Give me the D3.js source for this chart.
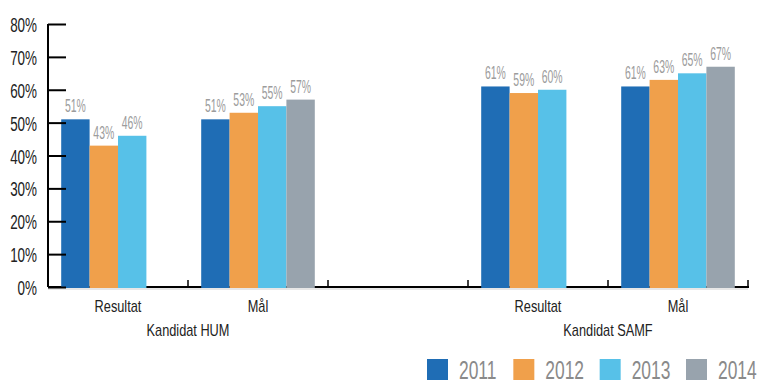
<!DOCTYPE html>
<html>
<head>
<meta charset="utf-8">
<script src="https://cdn.jsdelivr.net/npm/d3@7"></script>
<style>
  html, body { margin: 0; padding: 0; background: #fff; }
  svg text { font-family: "Liberation Sans", Arial, sans-serif; }
</style>
</head>
<body>
<svg id="chart" width="758" height="385"></svg>
<script>
// Category slots along the x axis (one empty slot separates the two programmes)
const categories = ["HUM Resultat", "HUM Mål", "gap", "SAMF Resultat", "SAMF Mål"];
const categoryLabels = ["Resultat", "Mål", "", "Resultat", "Mål"];
const groups = [
  { label: "Kandidat HUM", from: "HUM Resultat", to: "HUM Mål" },
  { label: "Kandidat SAMF", from: "SAMF Resultat", to: "SAMF Mål" }
];
const years = ["2011", "2012", "2013", "2014"];
const colors = ["#1f6db5", "#f0a04b", "#57c1e8", "#98a3ad"];

// Share per year in each slot (null = no bar)
const v2011 = [51, 51, null, 61, 61];
const v2012 = [43, 53, null, 59, 63];
const v2013 = [46, 55, null, 60, 65];
const v2014 = [null, 57, null, null, 67];
const series = [v2011, v2012, v2013, v2014];

const yTicks = [0, 10, 20, 30, 40, 50, 60, 70, 80];

const svg = d3.select("#chart");
const margin = { left: 48, right: 10, top: 24, bottom: 98 };
const W = 758, H = 385;

// tall, narrow lettering: a smaller face stretched vertically about its baseline
function narrowFace(sel, size, sx) {
  sel.attr("font-size", size * sx)
    .attr("transform", function () {
      const y0 = +this.getAttribute("y") || 0;
      return `translate(0,${y0}) scale(1,${1 / sx}) translate(0,${-y0})`;
    });
}

const x = d3.scaleBand().domain(categories).range([margin.left, W - margin.right]).paddingInner(0).paddingOuter(0);
const xi = d3.scaleBand().domain(years).range([0, x.bandwidth()]).paddingOuter(0.465).paddingInner(0);
const y = d3.scaleLinear().domain([0, 80]).range([H - margin.bottom, margin.top]);

// faint baseline shadow
svg.append("line")
  .attr("x1", margin.left).attr("x2", W - margin.right)
  .attr("y1", y(0) + 2).attr("y2", y(0) + 2)
  .attr("stroke", "#cfcfcf").attr("stroke-width", 1);

// bars
const barData = [];
series.forEach((s, si) => s.forEach((v, ci) => {
  if (v != null) barData.push({ cat: categories[ci], year: years[si], v, color: colors[si] });
}));

// x axis with boundary ticks pointing up
const bounds = categories.map(c => x(c)).concat([x(categories[categories.length - 1]) + x.bandwidth()]);
const xAxisG = svg.append("g");
xAxisG.append("line")
  .attr("x1", margin.left).attr("x2", W - margin.right + 1)
  .attr("y1", y(0)).attr("y2", y(0))
  .attr("stroke", "#000").attr("stroke-width", 2);
xAxisG.selectAll("line.bt").data(bounds.slice(1)).join("line")
  .attr("class", "bt")
  .attr("x1", d => d).attr("x2", d => d)
  .attr("y1", y(0)).attr("y2", y(0) - 7)
  .attr("stroke", "#000").attr("stroke-width", 1.5);

svg.append("g").selectAll("rect").data(barData).join("rect")
  .attr("x", d => x(d.cat) + xi(d.year))
  .attr("width", xi.bandwidth())
  .attr("y", d => y(d.v))
  .attr("height", d => y(0) + 1 - y(d.v))
  .attr("fill", d => d.color);

// value labels
svg.append("g").selectAll("text").data(barData).join("text")
  .attr("x", d => x(d.cat) + xi(d.year) + xi.bandwidth() / 2)
  .attr("y", d => y(d.v) - 7)
  .attr("text-anchor", "middle")
  .attr("fill", "#9c9c9c")
  .text(d => d.v + "%")
  .call(narrowFace, 18, 0.58);

// y axis: ticks point inward
const yAxis = d3.axisRight(y).tickValues(yTicks).tickSize(18).tickFormat(d => d + "%");
const yG = svg.append("g").attr("transform", `translate(${margin.left},0)`).call(yAxis);
yG.select(".domain").attr("stroke", "#000").attr("stroke-width", 2).attr("d", `M0,${y(80)}V${y(0)}`);
yG.selectAll(".tick line").attr("stroke", "#000").attr("stroke-width", 2);
yG.selectAll(".tick text")
  .attr("x", -11).attr("y", 0).attr("text-anchor", "end").attr("dy", "0.36em")
  .attr("fill", "#222")
  .call(narrowFace, 21, 0.64);

// category labels
svg.append("g").selectAll("text").data(categories.filter((c, i) => categoryLabels[i])).join("text")
  .attr("x", d => x(d) + x.bandwidth() / 2)
  .attr("y", y(0) + 25)
  .attr("text-anchor", "middle")
  .attr("fill", "#222")
  .text(d => categoryLabels[categories.indexOf(d)])
  .call(narrowFace, 17, 0.75);

// programme labels centred on the shared boundary
svg.append("g").selectAll("text").data(groups).join("text")
  .attr("x", d => (x(d.from) + x(d.to) + x.bandwidth()) / 2)
  .attr("y", y(0) + 49)
  .attr("text-anchor", "middle")
  .attr("fill", "#222")
  .text(d => d.label)
  .call(narrowFace, 17, 0.75);

// legend: swatches first, then the year labels on top
const legendX = d3.scalePoint().domain(years).range([427, 686]);
const legend = svg.append("g");
legend.append("g").selectAll("rect").data(years).join("rect")
  .attr("x", d => legendX(d)).attr("y", 359)
  .attr("width", 21).attr("height", 21)
  .attr("fill", (d, i) => colors[i]);
legend.append("g").selectAll("text").data(years).join("text")
  .attr("x", d => legendX(d) + 32).attr("y", 379)
  .attr("fill", "#8a8a8a").text(d => d)
  .call(narrowFace, 26, 0.67);
</script>
</body>
</html>
